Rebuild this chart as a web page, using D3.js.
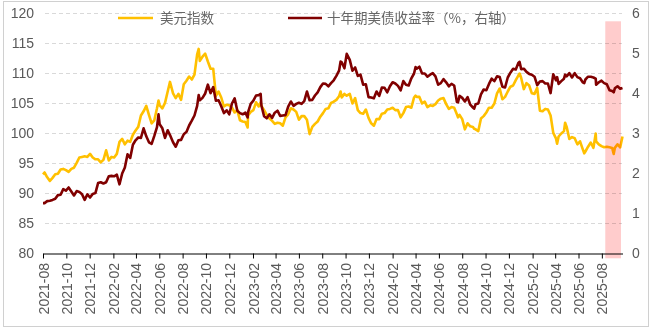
<!DOCTYPE html>
<html>
<head>
<meta charset="utf-8">
<script src="https://cdn.jsdelivr.net/npm/d3@7"></script>
<style>
  body { margin: 0; background: #fff; }
  svg text { font-family: "Liberation Sans", Arial, sans-serif; fill: #595959; }
  svg text.cjk { font-family: "Noto Sans CJK SC", sans-serif; fill: #666; }
</style>
</head>
<body>
<svg id="chart" width="654" height="329"></svg>
<script>
// Observation dates (weekly closes plus a few intra-week extremes)
const dates = [
  "2021-08-16","2021-08-20","2021-08-27","2021-09-03","2021-09-10","2021-09-17","2021-09-24","2021-10-01","2021-10-08","2021-10-15",
  "2021-10-22","2021-10-29","2021-11-05","2021-11-12","2021-11-19","2021-11-26","2021-12-03","2021-12-10","2021-12-17","2021-12-24",
  "2021-12-31",
  "2022-01-07","2022-01-14","2022-01-21","2022-01-28","2022-02-04","2022-02-11","2022-02-18","2022-02-25","2022-03-04","2022-03-11",
  "2022-03-18","2022-03-25","2022-04-01","2022-04-08","2022-04-15","2022-04-22","2022-04-29","2022-05-06","2022-05-13","2022-05-20",
  "2022-05-27","2022-06-03","2022-06-10","2022-06-14","2022-06-17","2022-06-24","2022-07-01","2022-07-08","2022-07-14","2022-07-22",
  "2022-07-29","2022-08-05","2022-08-12","2022-08-19","2022-08-26","2022-09-02","2022-09-09","2022-09-16","2022-09-23","2022-09-27",
  "2022-09-30","2022-10-07","2022-10-14","2022-10-21","2022-10-28","2022-11-04","2022-11-11","2022-11-18","2022-11-25","2022-12-02",
  "2022-12-09","2022-12-16","2022-12-23","2022-12-30",
  "2023-01-06","2023-01-13","2023-01-20","2023-01-27","2023-02-02","2023-02-03","2023-02-10","2023-02-17","2023-02-24","2023-03-03",
  "2023-03-08","2023-03-10","2023-03-17","2023-03-24","2023-03-31","2023-04-07","2023-04-14","2023-04-21","2023-04-28","2023-05-05",
  "2023-05-12","2023-05-19","2023-05-26","2023-06-02","2023-06-09","2023-06-16","2023-06-23","2023-06-30","2023-07-07","2023-07-14",
  "2023-07-21","2023-07-28","2023-08-04","2023-08-11","2023-08-18","2023-08-25","2023-09-01","2023-09-08","2023-09-15","2023-09-22",
  "2023-09-29","2023-10-03","2023-10-06","2023-10-13","2023-10-19","2023-10-27","2023-11-03","2023-11-10","2023-11-17","2023-11-24",
  "2023-12-01","2023-12-08","2023-12-15","2023-12-22","2023-12-29",
  "2024-01-05","2024-01-12","2024-01-19","2024-01-26","2024-02-02","2024-02-09","2024-02-16","2024-02-23","2024-03-01","2024-03-08",
  "2024-03-15","2024-03-22","2024-03-29","2024-04-05","2024-04-12","2024-04-16","2024-04-19","2024-04-26","2024-05-03","2024-05-10",
  "2024-05-17","2024-05-24","2024-05-31","2024-06-07","2024-06-14","2024-06-21","2024-06-28","2024-07-05","2024-07-12","2024-07-19",
  "2024-07-26","2024-08-02","2024-08-05","2024-08-09","2024-08-16","2024-08-23","2024-08-30","2024-09-06","2024-09-13","2024-09-16",
  "2024-09-20","2024-09-27","2024-10-04","2024-10-11","2024-10-18","2024-10-25","2024-11-01","2024-11-08","2024-11-15","2024-11-22",
  "2024-11-29","2024-12-06","2024-12-13","2024-12-20","2024-12-27",
  "2025-01-03","2025-01-10","2025-01-13","2025-01-17","2025-01-24","2025-01-31","2025-02-07","2025-02-14","2025-02-21","2025-02-28",
  "2025-03-07","2025-03-14","2025-03-21","2025-03-28","2025-04-04","2025-04-11","2025-04-18","2025-04-21","2025-04-25","2025-05-02",
  "2025-05-09","2025-05-12","2025-05-16","2025-05-23","2025-05-30","2025-06-06","2025-06-13","2025-06-20","2025-06-27","2025-07-01",
  "2025-07-04","2025-07-11","2025-07-18","2025-07-25","2025-07-31","2025-08-01","2025-08-08","2025-08-15","2025-08-22","2025-08-29",
  "2025-09-05","2025-09-12","2025-09-16","2025-09-19","2025-09-26","2025-10-03","2025-10-09"
];

// US dollar index (left axis)
const dxy = [
  93.2,93.5,92.7,92.1,92.6,93.2,93.3,94.0,94.1,93.9,
  93.6,94.1,94.3,95.1,96.0,96.1,96.2,96.1,96.6,96.0,
  95.7,
  95.7,95.2,95.6,97.2,95.5,96.1,96.0,96.6,98.6,99.1,
  98.2,98.8,98.6,99.8,100.5,101.1,103.0,103.7,104.6,103.1,
  101.7,102.2,104.2,105.5,104.7,104.2,105.1,107.0,108.6,106.7,
  105.9,106.6,105.6,108.2,108.8,109.5,109.0,109.8,113.2,114.1,
  112.1,112.8,113.3,112.0,110.8,110.8,106.3,107.0,106.0,104.5,
  104.8,104.7,104.3,103.5,
  103.9,102.2,102.0,101.9,101.0,103.0,103.6,103.9,105.2,104.5,
  105.2,104.6,103.9,103.1,102.5,102.1,101.6,101.8,101.7,101.3,
  102.7,103.2,104.2,104.0,103.6,102.3,102.9,102.9,102.3,99.9,
  101.1,101.6,102.0,102.8,103.4,104.1,104.2,105.1,105.3,105.6,
  106.2,107.0,106.0,106.6,106.3,106.6,105.0,105.9,103.9,103.4,
  103.3,104.0,102.6,101.7,101.3,
  102.4,102.4,103.3,103.4,104.0,104.1,104.3,103.9,103.9,102.7,
  103.4,104.4,104.5,104.3,106.0,106.3,106.1,106.1,105.0,105.3,
  104.4,104.7,104.6,104.9,105.5,105.8,105.9,104.9,104.1,104.4,
  104.3,103.2,102.7,103.1,102.4,100.7,101.7,101.2,101.1,100.8,
  100.7,100.4,102.5,102.9,103.5,104.3,104.3,105.0,106.7,107.5,
  105.7,106.1,107.0,107.8,108.0,
  108.9,109.7,110.0,109.3,107.4,108.4,108.0,106.7,106.6,107.6,
  103.8,103.7,104.1,104.0,103.0,100.1,99.2,98.3,99.5,100.0,
  100.4,101.8,101.1,99.1,99.4,99.2,98.2,98.7,97.4,96.7,
  97.0,97.8,98.5,97.6,100.0,98.7,98.2,97.9,97.7,97.8,
  97.7,97.6,96.6,97.6,98.2,97.7,99.5
];

// 10-year US Treasury yield, % (right axis)
const ust10y = [
  1.26,1.26,1.31,1.32,1.34,1.37,1.46,1.47,1.61,1.57,
  1.65,1.55,1.45,1.56,1.54,1.48,1.34,1.48,1.40,1.49,
  1.51,
  1.76,1.78,1.75,1.78,1.93,1.94,1.93,1.97,1.73,2.00,
  2.15,2.48,2.39,2.72,2.83,2.90,2.89,3.13,2.93,2.78,
  2.74,2.94,3.16,3.48,3.23,3.13,2.89,3.08,2.96,2.78,
  2.67,2.83,2.84,2.98,3.04,3.20,3.32,3.45,3.69,3.96,
  3.83,3.89,4.00,4.22,4.01,4.16,3.82,3.83,3.68,3.51,
  3.58,3.48,3.75,3.88,
  3.57,3.51,3.48,3.52,3.40,3.53,3.74,3.82,3.95,3.96,
  3.99,3.70,3.43,3.38,3.48,3.39,3.52,3.57,3.44,3.45,
  3.46,3.67,3.80,3.69,3.74,3.77,3.74,3.81,4.05,3.83,
  3.84,3.95,4.03,4.16,4.25,4.24,4.18,4.26,4.33,4.44,
  4.57,4.80,4.78,4.63,4.99,4.84,4.57,4.65,4.44,4.47,
  4.22,4.23,3.91,3.90,3.88,
  4.05,3.94,4.15,4.14,4.03,4.18,4.28,4.25,4.19,4.08,
  4.31,4.22,4.20,4.38,4.50,4.66,4.62,4.67,4.50,4.50,
  4.42,4.47,4.51,4.43,4.22,4.26,4.36,4.28,4.18,4.24,
  4.20,3.79,3.78,3.94,3.89,3.80,3.91,3.72,3.65,3.62,
  3.73,3.75,3.98,4.10,4.08,4.24,4.37,4.31,4.43,4.41,
  4.17,4.15,4.40,4.52,4.62,
  4.60,4.77,4.79,4.61,4.62,4.54,4.49,4.47,4.42,4.21,
  4.30,4.31,4.25,4.25,4.01,4.48,4.33,4.41,4.24,4.31,
  4.37,4.47,4.43,4.51,4.40,4.51,4.41,4.38,4.28,4.26,
  4.35,4.42,4.42,4.40,4.37,4.22,4.28,4.32,4.26,4.23,
  4.08,4.06,4.03,4.13,4.18,4.12,4.14
];

const leftTicks = [80, 85, 90, 95, 100, 105, 110, 115, 120];
const rightTicks = [0, 1, 2, 3, 4, 5, 6];
const seriesNames = ["美元指数", "十年期美债收益率（%，右轴）"];
const seriesColors = ["#FFC000", "#800000"];
const axisStart = "2021-08-16";
const axisEnd = "2025-10-09";
const highlightStart = "2025-08-25";
const highlightEnd = "2025-10-05";

const parse = d3.utcParse("%Y-%m-%d");
const rows = dates.map((d, i) => ({ date: parse(d), dxy: dxy[i], ust: ust10y[i] }));

const svg = d3.select("#chart");

// outer frame
svg.append("rect")
  .attr("x", 3.5).attr("y", 1.5).attr("width", 645).attr("height", 325)
  .attr("fill", "none").attr("stroke", "#d0d0d0");

const x = d3.scaleUtc().domain([parse(axisStart), parse(axisEnd)]).range([43, 622.5]);
const yL = d3.scaleLinear().domain([80, 120]).range([253.5, 13.5]);
const yR = d3.scaleLinear().domain([0, 6]).range([253.5, 13.5]);

// dashed horizontal grid
svg.append("g").selectAll("line")
  .data(leftTicks.filter(v => v > 80))
  .join("line")
  .attr("x1", 45).attr("x2", 622)
  .attr("y1", d => yL(d)).attr("y2", d => yL(d))
  .attr("stroke", "#d9d9d9").attr("stroke-dasharray", "4,3");

// left axis labels
svg.append("g").selectAll("text")
  .data(leftTicks)
  .join("text")
  .attr("x", 34).attr("y", d => yL(d))
  .attr("dy", "0.35em").attr("text-anchor", "end")
  .attr("font-size", 14)
  .text(d => d);

// right axis labels
svg.append("g").selectAll("text")
  .data(rightTicks)
  .join("text")
  .attr("x", 632).attr("y", d => yR(d))
  .attr("dy", "0.35em").attr("text-anchor", "start")
  .attr("font-size", 14)
  .text(d => d);

// lines
const lineL = d3.line().x(d => x(d.date)).y(d => yL(d.dxy));
const lineR = d3.line().x(d => x(d.date)).y(d => yR(d.ust));

svg.append("path").datum(rows)
  .attr("d", lineL).attr("fill", "none")
  .attr("stroke", seriesColors[0]).attr("stroke-width", 2.6)
  .attr("stroke-linejoin", "round");

svg.append("path").datum(rows)
  .attr("d", lineR).attr("fill", "none")
  .attr("stroke", seriesColors[1]).attr("stroke-width", 2.6)
  .attr("stroke-linejoin", "round");

// x axis: a tick every two months from the first observation
const tickDates = d3.range(0, 25).map(i => d3.utcMonth.offset(parse(axisStart), 2 * i));
const xAxis = svg.append("g")
  .attr("transform", `translate(0,${yL(80)})`)
  .call(d3.axisBottom(x).tickValues(tickDates).tickSize(5).tickSizeOuter(0)
    .tickFormat(d3.utcFormat("%Y-%m")));
xAxis.select(".domain").attr("stroke", "#000");
xAxis.selectAll(".tick line").attr("stroke", "#000");
xAxis.selectAll(".tick text")
  .attr("transform", "rotate(-90)")
  .attr("text-anchor", "end")
  .attr("x", -9.5).attr("y", 0).attr("dy", "0.36em")
  .attr("font-size", 14)
  .attr("font-family", "Liberation Sans, Arial, sans-serif")
  .attr("fill", "#595959");

// highlighted recent window
svg.append("rect")
  .attr("x", x(parse(highlightStart)))
  .attr("width", x(parse(highlightEnd)) - x(parse(highlightStart)))
  .attr("y", yL(118.7))
  .attr("height", yL(79.2) - yL(118.7))
  .attr("fill", "#ffcccc")
  .style("mix-blend-mode", "multiply");

// legend
const legend = svg.append("g");
const legendItems = [
  { name: seriesNames[0], color: seriesColors[0], x0: 118, x1: 153, tx: 160 },
  { name: seriesNames[1], color: seriesColors[1], x0: 288, x1: 322, tx: 327 }
];
legendItems.forEach(it => {
  legend.append("line")
    .attr("x1", it.x0).attr("x2", it.x1).attr("y1", 18).attr("y2", 18)
    .attr("stroke", it.color).attr("stroke-width", 2.5);
  legend.append("text")
    .attr("class", "cjk")
    .attr("x", it.tx).attr("y", 18).attr("dy", "0.35em")
    .attr("font-size", 13.5)
    .text(it.name);
});
</script>
</body>
</html>
